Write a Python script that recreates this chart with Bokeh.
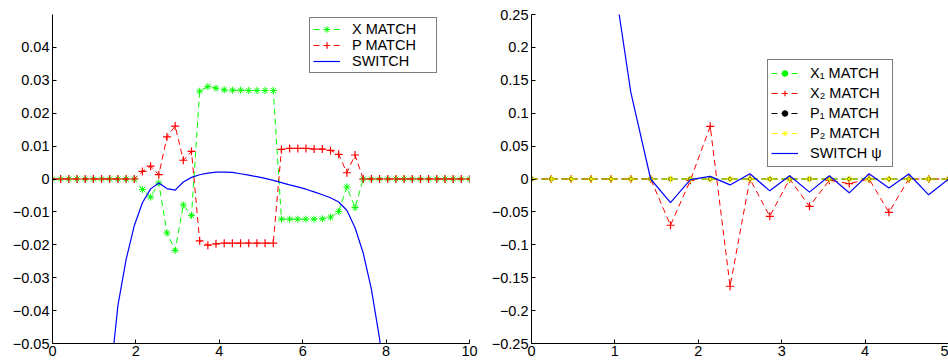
import numpy as np
from bokeh.plotting import figure
from bokeh.layouts import row
from bokeh.models import Range1d, FixedTicker, CustomJSTickFormatter
from bokeh.embed import file_html
from bokeh.resources import INLINE

nan = float("nan")

# ---------------- left panel data ----------------
t_left = np.linspace(0, 10, 52)
x_match = ([0.0] * 11 +
           [-0.0032, -0.0055, -0.0012, -0.0164, -0.0217, -0.0079, -0.0111,
            0.0267, 0.0281, 0.0276, 0.0271, 0.0270, 0.0270, 0.0269, 0.0269,
            0.0269, 0.0269, -0.0122, -0.0122, -0.0122, -0.0122, -0.0122,
            -0.0121, -0.0116, -0.0099, -0.0024, -0.0087] +
           [0.0] * 14)
p_match = ([0.0] * 11 +
           [0.0023, 0.0039, 0.0013, 0.0128, 0.0161, 0.0057, 0.0084,
            -0.0188, -0.0201, -0.0197, -0.0195, -0.0195, -0.0195, -0.0195,
            -0.0195, -0.0195, -0.0195, 0.0090, 0.0093, 0.0093, 0.0093,
            0.0091, 0.0091, 0.0087, 0.0075, 0.0019, 0.0073] +
           [0.0] * 14)
switch_left = ([nan] * 7 +
               [-0.062, -0.0385, -0.0245, -0.0142, -0.0072, -0.0030, -0.0012,
                -0.0029, -0.0034, -0.0009, 0.0005, 0.0013, 0.0018, 0.0021,
                0.0021, 0.0020, 0.0016, 0.0012, 0.0007, 0.0002, -0.0004,
                -0.0011, -0.0018, -0.0024, -0.0031, -0.0039, -0.0048, -0.0057,
                -0.0070, -0.0095, -0.0148, -0.0225, -0.0335, -0.0485, -0.068] +
               [nan] * 10)
left_xticks = [0, 2, 4, 6, 8, 10]
left_yticks = [-0.05, -0.04, -0.03, -0.02, -0.01, 0, 0.01, 0.02, 0.03, 0.04]

# ---------------- right panel data ----------------
t_right = np.linspace(0, 5, 22)
x1_match = [0.0] * 22
x2_match = [0.0] * 7 + [-0.0703, -0.002, 0.080, -0.163, 0.0, -0.0567, 0.0,
                        -0.0415, -0.002, -0.007, 0.0, -0.0506, 0.0, 0.0, 0.0]
p1_match = [0.0] * 22
p2_match = [0.0] * 22
switch_psi = [nan] * 4 + [0.334, 0.132, 0.0, -0.036, -0.001, 0.004, -0.009,
                          0.008, -0.018, 0.005, -0.020, 0.005, -0.021, 0.008,
                          -0.0137, 0.0076, -0.024, 0.0]
right_xticks = [0, 1, 2, 3, 4, 5]
right_yticks = [-0.25, -0.2, -0.15, -0.1, -0.05, 0, 0.05, 0.1, 0.15, 0.2, 0.25]

FONT = "Liberation Sans"
FS = "14.5px"
GREEN, RED, BLUE, BLACK, YELLOW = "#00ff00", "#ff0000", "#0000ff", "#000000", "#ffff00"

fmt = CustomJSTickFormatter(code="""
const v = Math.round(tick * 1000) / 1000;
if (v < 0) { return '\\u2212' + String(-v); }
return String(v);
""")


def make_fig(xr, yr, xticks, yticks, width, bl, br):
    p = figure(width=width, height=362, x_range=Range1d(*xr), y_range=Range1d(*yr),
               output_backend="svg", toolbar_location=None,
               min_border_left=bl, min_border_right=br,
               min_border_top=14, min_border_bottom=19)
    p.outline_line_color = None
    p.grid.visible = False
    p.background_fill_color = "white"
    p.border_fill_color = "white"
    p.xaxis.ticker = FixedTicker(ticks=xticks)
    p.yaxis.ticker = FixedTicker(ticks=yticks)
    p.xaxis.formatter = fmt
    p.yaxis.formatter = fmt
    for ax in (p.xaxis, p.yaxis):
        ax.axis_line_color = BLACK
        ax.axis_line_width = 1
        ax.major_tick_line_color = BLACK
        ax.major_tick_in = 4
        ax.major_tick_out = 0
        ax.minor_tick_line_color = None
        ax.major_label_text_font = FONT
        ax.major_label_text_font_size = FS
        ax.major_label_text_color = BLACK
    p.xaxis.major_label_standoff = 2
    p.yaxis.major_label_standoff = 3
    return p


def style_legend(p, loc, glyph_h, label_h, label_w):
    leg = p.legend[0]
    leg.location = loc
    leg.label_text_font = FONT
    leg.label_text_font_size = FS
    leg.label_text_color = BLACK
    leg.glyph_width = 27
    leg.glyph_height = glyph_h
    leg.label_height = label_h
    leg.label_width = label_w
    leg.label_standoff = 12
    leg.padding = 3
    leg.spacing = 0
    leg.margin = 0
    leg.border_line_color = BLACK
    leg.border_line_width = 1.5
    leg.background_fill_color = "white"
    leg.background_fill_alpha = 1


# ---------------- left figure ----------------
p1 = make_fig((0, 10), (-0.05, 0.05), left_xticks, left_yticks, 478, 52, 9)
p1.line(t_left, x_match, color=GREEN, line_dash="6 4", line_width=1, legend_label="X MATCH")
p1.scatter(t_left, x_match, marker="asterisk", size=7, line_color=GREEN, line_width=1, legend_label="X MATCH")
p1.line(t_left, p_match, color=RED, line_dash="6 4", line_width=1, legend_label="P MATCH")
p1.scatter(t_left, p_match, marker="cross", size=8, line_color=RED, line_width=1.2, legend_label="P MATCH")
p1.line(t_left, switch_left, color=BLUE, line_width=1.2, legend_label="SWITCH")
style_legend(p1, (257, 270), 16, 16, 81)

# ---------------- right figure ----------------
p2 = make_fig((0, 5), (-0.25, 0.25), right_xticks, right_yticks, 470, 53, 0)
p2.line(t_right, x1_match, color=GREEN, line_dash="6 4", line_width=1, legend_label="X\u2081 MATCH")
p2.scatter(t_right, x1_match, marker="circle", size=3, line_color=GREEN, fill_color=GREEN, legend_label="X\u2081 MATCH")
p2.line(t_right, x2_match, color=RED, line_dash="6 4", line_width=1, legend_label="X\u2082 MATCH")
p2.scatter(t_right, x2_match, marker="cross", size=8, line_color=RED, line_width=1.2, legend_label="X\u2082 MATCH")
p2.line(t_right, p1_match, color=BLACK, line_dash="6 4", line_width=1, legend_label="P\u2081 MATCH")
p2.scatter(t_right, p1_match, marker="circle", size=4, line_color=BLACK, fill_color=BLACK, legend_label="P\u2081 MATCH")
p2.line(t_right, p2_match, color=YELLOW, line_dash="6 4", line_width=1.2, legend_label="P\u2082 MATCH")
p2.scatter(t_right, p2_match, marker="asterisk", size=7, line_color=YELLOW, line_width=1, legend_label="P\u2082 MATCH")
p2.line(t_right, switch_psi, color=BLUE, line_width=1.2, legend_label="SWITCH \u03c8")
style_legend(p2, (236, 176), 14, 20, 79)

layout = row(p1, p2)
with open("out.html", "w", encoding="utf-8") as f:
    f.write(file_html(layout, INLINE))
